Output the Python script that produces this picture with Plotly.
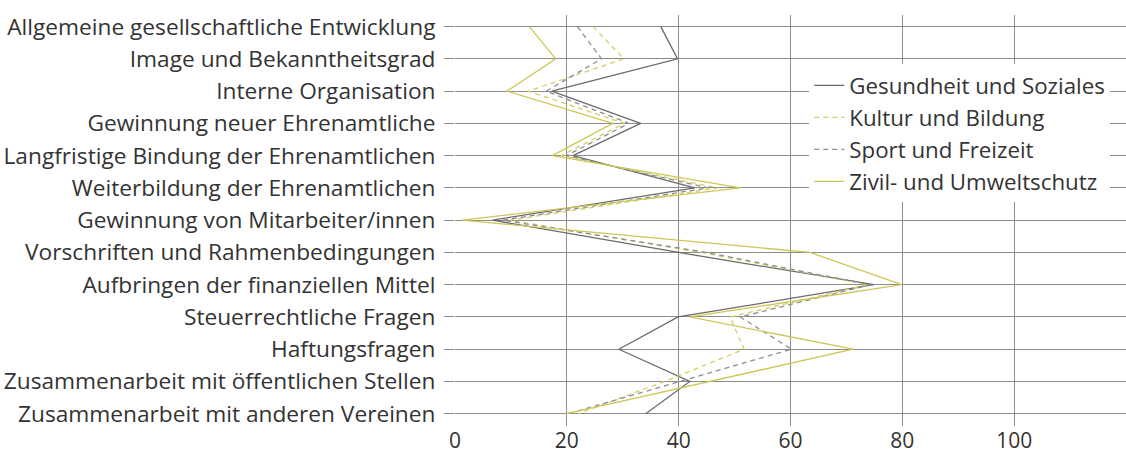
import plotly.graph_objects as go

categories = [
    "Allgemeine gesellschaftliche Entwicklung",
    "Image und Bekanntheitsgrad",
    "Interne Organisation",
    "Gewinnung neuer Ehrenamtliche",
    "Langfristige Bindung der Ehrenamtlichen",
    "Weiterbildung der Ehrenamtlichen",
    "Gewinnung von Mitarbeiter/innen",
    "Vorschriften und Rahmenbedingungen",
    "Aufbringen der finanziellen Mittel",
    "Steuerrechtliche Fragen",
    "Haftungsfragen",
    "Zusammenarbeit mit öffentlichen Stellen",
    "Zusammenarbeit mit anderen Vereinen",
]

gesundheit = [36.8, 39.8, 17.3, 33.2, 21.1, 42.9, 6.7, 40.0, 74.9, 39.9, 29.3, 42.0, 34.1]
kultur = [24.7, 30.2, 13.1, 30.3, 19.0, 47.0, 9.8, 44.0, 73.8, 49.2, 51.7, 37.5, 22.0]
sport = [21.9, 26.2, 16.3, 31.1, 19.9, 45.3, 8.5, 45.0, 74.3, 51.0, 60.2, 40.1, 20.2]
zivil = [13.3, 18.0, 9.3, 28.2, 17.4, 51.0, 1.3, 63.5, 79.9, 42.0, 71.2, 45.6, 19.9]

series_names = ["Gesundheit und Soziales", "Kultur und Bildung", "Sport und Freizeit", "Zivil- und Umweltschutz"]
series_values = [gesundheit, kultur, sport, zivil]
series_colors = ["#6b6b6b", "#d4cd62", "#8e8e8e", "#cfc658"]
series_dash = ["solid", "5px,4px", "5px,4px", "solid"]

x_ticks = [0, 20, 40, 60, 80, 100]

FONT = "Open Sans"

fig = go.Figure()
for name, vals, col, dash in zip(series_names, series_values, series_colors, series_dash):
    fig.add_trace(go.Scatter(
        x=vals, y=categories, mode="lines", name=name,
        line=dict(color=col, width=1.3, dash=dash),
    ))

fig.update_layout(
    width=1126, height=457,
    margin=dict(l=455, r=0, t=15, b=31, autoexpand=False),
    paper_bgcolor="white", plot_bgcolor="white",
    font=dict(family=FONT, size=22, color="#333333"),
    showlegend=True,
    legend=dict(
        x=0.528, y=0.880, xanchor="left", yanchor="top",
        bgcolor="white", borderwidth=0,
        font=dict(family=FONT, size=22.3, color="#333333"),
        itemwidth=30,
    ),
    xaxis=dict(
        range=[0, 120], tickvals=x_ticks, ticktext=[str(v) for v in x_ticks],
        showgrid=True, gridcolor="#8c8c8c", gridwidth=1,
        zeroline=False, showline=False, ticks="",
        automargin=False,
        tickfont=dict(family=FONT, size=21, color="#333333"),
    ),
    yaxis=dict(
        type="category", categoryorder="array", categoryarray=categories,
        range=[12.38, -0.36],
        showgrid=True, gridcolor="#8c8c8c", gridwidth=1,
        zeroline=False, showline=False,
        ticks="outside", ticklen=10, tickcolor="#8c8c8c", tickwidth=1,
        ticklabelstandoff=4,
        automargin=False,
        tickfont=dict(family=FONT, size=22.7, color="#333333"),
    ),
)

fig.write_html(
    "out.html",
    config={"displayModeBar": False},
    post_script="document.body.style.margin='0';document.body.style.padding='0';",
)
